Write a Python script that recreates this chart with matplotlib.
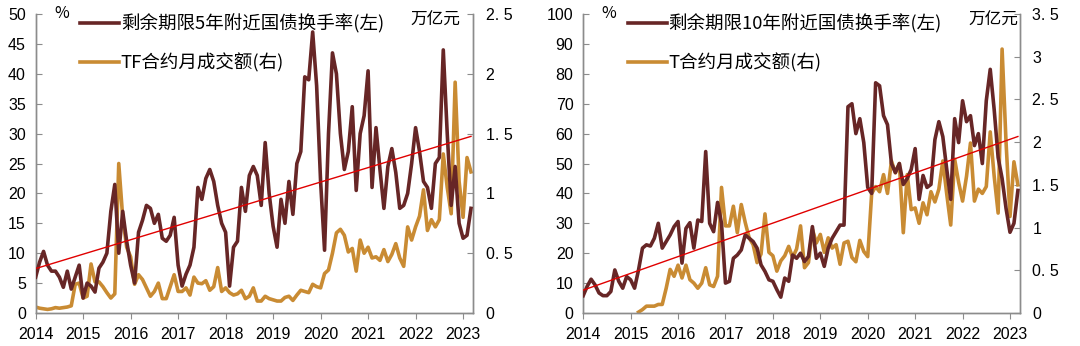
import numpy as np
import matplotlib
matplotlib.use("Agg")
import matplotlib.pyplot as plt

plt.rcParams['font.family'] = ['Noto Sans CJK SC', 'DejaVu Sans']

# monthly data, Jan 2014 - Mar 2023
months = 2014 + np.arange(111) / 12

turnover_5y = [6, 8.5, 10.3, 8, 7, 7, 6, 4.3, 7, 4, 6, 8, 2.5, 5, 4.5, 3.5, 7.5, 8.5, 10, 17,
               21.5, 10, 17, 12, 8, 5, 13.5, 15.5, 18, 17.5, 15, 16.5, 12.5, 12, 13, 16, 8, 4.5, 6.5, 8,
               11, 21, 19, 22.5, 24, 22, 18, 15, 13.5, 4.5, 11, 12, 21, 17, 23, 24.5, 23, 18, 28.5, 20,
               14.5, 11, 19, 15, 22, 16.5, 25, 27, 39.5, 39, 47, 38, 22, 10.5, 30, 43.5, 40, 30, 24, 27,
               34.5, 20.5, 30, 33, 40.5, 21, 31, 24, 17.5, 24.5, 27.5, 23.5, 17.5, 18, 20, 25, 31, 27, 22, 21,
               17.5, 25, 26, 44, 30, 18, 24.5, 15, 12.5, 13, 17.5]
tf_volume = [0.05, 0.04, 0.035, 0.03, 0.035, 0.045, 0.04, 0.045, 0.05, 0.06,
             0.24, 0.25, 0.125, 0.14, 0.41, 0.26, 0.26, 0.22, 0.17, 0.125, 0.16,
             1.25, 0.8, 0.55, 0.47, 0.24, 0.32, 0.28, 0.21, 0.14, 0.18, 0.25, 0.12, 0.12, 0.22, 0.32,
             0.18, 0.18, 0.21, 0.15, 0.3, 0.25, 0.245, 0.27, 0.19, 0.22, 0.38, 0.18, 0.21, 0.17, 0.15,
             0.16, 0.19, 0.12, 0.14, 0.21, 0.1, 0.1, 0.14, 0.12, 0.11, 0.1, 0.1, 0.13, 0.14, 0.105,
             0.15, 0.19, 0.18, 0.17, 0.24, 0.22, 0.21, 0.33, 0.36, 0.5, 0.67, 0.7, 0.65, 0.51, 0.54,
             0.35, 0.61, 0.5, 0.55, 0.46, 0.47, 0.44, 0.53, 0.43, 0.49, 0.58, 0.46, 0.39, 0.72, 0.61,
             0.72, 0.81, 1.03, 0.69, 0.78, 0.72, 0.78, 1.33, 1.05, 0.83, 1.93, 1.1, 0.8, 1.3, 1.18]

turnover_10y = [5.8, 8.9, 11.3, 9.4, 6.7, 5.8, 5.8, 7.2, 14.4, 10.6, 8.3, 12.2, 11.1, 8.3, 14.4, 21.7,
                22.8, 22.4, 25, 30, 21.7, 23.9, 26.1, 28.9, 30.6, 16.7, 28.3, 30.2, 21.7, 31.1, 30.6, 54,
                30, 27.2, 37, 30, 10, 10.6, 18.3, 19.4, 21.1, 26.1, 25, 23.9, 21.7, 16.1, 13.9, 11.1,
                10.6, 7.8, 5.3, 11.7, 10.6, 19.4, 18.3, 20, 17.2, 18.9, 28.9, 18.3, 20, 15.6, 21.7, 25,
                27.2, 29.4, 29.4,
                69, 70, 60, 65, 57, 42, 40, 77, 76, 66, 63, 50, 47, 50, 43, 45, 48, 55, 38, 46, 42, 43,
                58, 64, 59, 48, 38, 65, 57, 71, 64, 66, 56, 60, 50, 71, 81.5, 68, 52, 45, 35, 27, 30, 41]
t_volume = [np.nan] * 14 + [
    0.01, 0.04, 0.08, 0.08, 0.08, 0.1, 0.1, 0.29, 0.51, 0.43, 0.56, 0.41, 0.56, 0.39, 0.35, 0.29,
    0.35, 0.53, 0.33, 0.31, 0.43, 1.47, 1.02, 1.02, 1.25, 0.94, 1.27, 1.06, 0.88, 0.8, 0.59, 0.69,
    1.16, 0.71, 0.67, 0.49, 0.61, 0.67, 0.78, 0.65, 0.75, 1.02, 0.53, 0.59, 0.98, 0.82, 0.92, 0.71,
    0.88, 0.76, 0.8, 0.57, 0.82, 0.84, 0.65,
    0.6, 0.85, 0.72, 0.66, 1.4, 1.48, 1.42, 1.62, 1.4, 1.78, 1.64, 1.75, 0.94, 1.62, 1.21, 1.23,
    1.05, 1.29, 1.15, 1.42, 1.3, 1.45, 1.78, 1.39, 1.03, 1.8, 1.53, 1.31, 1.6, 1.99, 1.31, 1.45,
    1.4, 1.48, 2.12, 1.6, 1.17, 3.09, 2.0, 1.13, 1.77, 1.5]

years = list(range(2014, 2024))

DARK = '#672626'
ORANGE = '#C98B33'
RED = '#E00000'
GRID = '#8C8C8C'
NUMFONT = ['Liberation Sans', 'DejaVu Sans']

fig = plt.figure(figsize=(10.8, 3.46), dpi=100)


def panel(rect, turnover, volume, lmax, lstep, rmax, rticks, rlabels, lab1, lab2):
    ax = fig.add_axes(rect)
    ax2 = ax.twinx()
    l1, = ax.plot(months, turnover, color=DARK, lw=2.6, label=lab1, zorder=3)
    l2, = ax2.plot(months, volume, color=ORANGE, lw=2.6, label=lab2, zorder=2)
    coef = np.polyfit(months, turnover, 1)
    ax.plot(months, np.polyval(coef, months), color=RED, lw=1.0, zorder=4)
    ax.set_zorder(ax2.get_zorder() + 1)
    ax.patch.set_visible(False)

    ax.set_xlim(2014, 2023.21)
    ax.set_ylim(0, lmax)
    ax2.set_ylim(0, rmax)
    ax.set_xticks(years)
    ax.set_xticklabels([str(y) for y in years])
    ax.set_yticks(np.arange(0, lmax + 1, lstep))
    ax2.set_yticks(rticks)
    ax2.set_yticklabels(rlabels)
    for a in (ax, ax2):
        a.spines['top'].set_visible(False)
        for s in ('left', 'right', 'bottom'):
            a.spines[s].set_color(GRID)
            a.spines[s].set_linewidth(1.0)
        a.tick_params(direction='in', length=4, color=GRID, labelsize=11.5)
        for t in a.get_xticklabels() + a.get_yticklabels():
            t.set_family(NUMFONT)
    ax.tick_params(axis='x', direction='out', pad=6)
    ax.tick_params(axis='y', pad=7)
    ax2.tick_params(axis='y', pad=9)
    ax.legend([l1, l2], [lab1, lab2], loc='upper left', bbox_to_anchor=(0.085, 1.025),
              frameon=False, fontsize=13.3, handlelength=2.1, handletextpad=0.1,
              labelspacing=1.1, borderaxespad=0)
    return ax, ax2


ax_a, _ = panel([0.033, 0.0954, 0.405, 0.864], turnover_5y, tf_volume, 50, 5, 2.5,
                [0, 0.5, 1, 1.5, 2, 2.5], ['0', '0. 5', '1', '1. 5', '2', '2. 5'],
                '剩余期限5年附近国债换手率(左)', 'TF合约月成交额(右)')
ax_b, _ = panel([0.540, 0.0954, 0.4044, 0.864], turnover_10y, t_volume, 100, 10, 3.5,
                [0, 0.5, 1, 1.5, 2, 2.5, 3, 3.5], ['0', '0. 5', '1', '1. 5', '2', '2. 5', '3', '3. 5'],
                '剩余期限10年附近国债换手率(左)', 'T合约月成交额(右)')

fig.text(62 / 1080, 1 - 13 / 346, '%', fontsize=11.5, ha='center', va='center')
fig.text(435 / 1080, 1 - 20 / 346, '万亿元', fontsize=12, ha='center', va='center')
fig.text(609 / 1080, 1 - 13 / 346, '%', fontsize=11.5, ha='center', va='center')
fig.text(993 / 1080, 1 - 20 / 346, '万亿元', fontsize=12, ha='center', va='center')

fig.savefig('out.png', dpi=100)
